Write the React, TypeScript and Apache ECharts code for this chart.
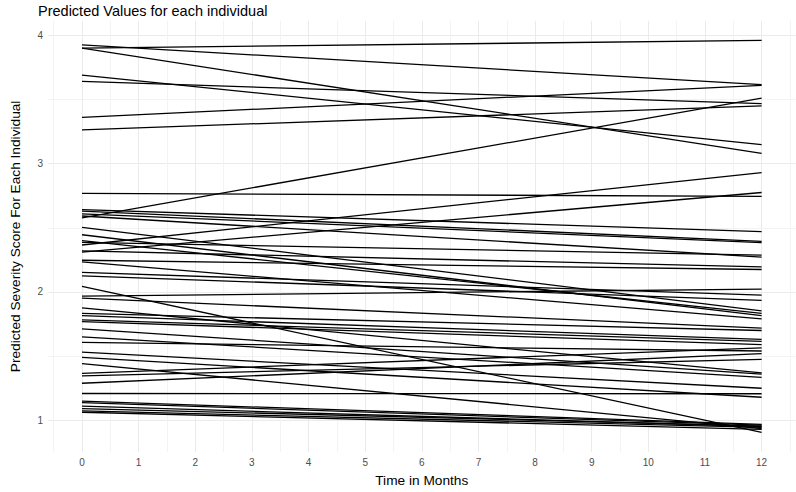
import React, { useEffect, useRef } from "react";
import * as echarts from "echarts";

const TITLE = "Predicted Values for each individual";
const X_TITLE = "Time in Months";
const Y_TITLE = "Predicted Severity Score For Each Individual";

const times = [0, 12];
const xTickLabels = [0, 1, 2, 3, 4, 5, 6, 7, 8, 9, 10, 11, 12];
const yTickLabels = [1, 2, 3, 4];

// predicted value at month 0 for each individual
const startValues = [
  3.9, 3.925, 3.9, 3.69, 3.64, 3.36, 3.263, 2.578, 2.366, 2.31,
  2.768, 2.642, 2.63, 2.609, 2.592, 2.504, 2.446, 2.4, 2.387, 2.32,
  2.247, 2.234, 2.152, 2.126, 2.044, 1.968, 1.952, 1.876, 1.833, 1.815,
  1.782, 1.769, 1.713, 1.651, 1.607, 1.531, 1.49, 1.442, 1.366, 1.347,
  1.289, 1.209, 1.15, 1.138, 1.11, 1.092, 1.074, 1.063,
];
// predicted value at month 12 for each individual
const endValues = [
  3.96, 3.615, 3.08, 3.148, 3.467, 3.61, 3.45, 3.51, 2.93, 2.775,
  2.745, 2.47, 2.395, 2.385, 2.272, 1.853, 1.815, 1.833, 2.287, 2.195,
  2.175, 1.79, 1.976, 1.935, 0.906, 2.022, 1.718, 1.37, 1.7, 1.63,
  1.615, 1.59, 1.36, 1.335, 1.54, 1.25, 1.18, 0.936, 1.565, 1.475,
  1.519, 1.207, 0.969, 0.962, 0.952, 0.955, 0.945, 0.93,
];

export default function App() {
  const ref = useRef<HTMLDivElement>(null);
  useEffect(() => {
    if (!ref.current) return;
    const chart = echarts.init(ref.current, null, { renderer: "svg" });
    const all = startValues.concat(endValues);
    const lo = Math.min(...all);
    const hi = Math.max(...all);
    const pad = (hi - lo) * 0.05;
    const xPad = (times[1] - times[0]) * 0.05;
    const xGrid: number[] = [];
    for (let v = -0.5; v <= 12.5; v += 0.5) xGrid.push(v);
    const yGrid = [1, 1.5, 2, 2.5, 3, 3.5, 4];
    const font = "'Liberation Sans', Arial, sans-serif";

    const series = startValues.map((s, i) => ({
      type: "line" as const,
      data: [
        [times[0], s],
        [times[1], endValues[i]],
      ],
      showSymbol: false,
      symbol: "none",
      lineStyle: { color: "#000000", width: 1.3 },
      silent: true,
    }));

    chart.setOption({
      animation: false,
      backgroundColor: "#ffffff",
      title: {
        text: TITLE,
        left: 33,
        top: -2,
        textStyle: { fontFamily: font, fontSize: 14.5, fontWeight: "normal", color: "#000000" },
      },
      grid: { left: 34.7, right: 0.4, top: 20.8, bottom: 32.8, containLabel: false },
      xAxis: {
        type: "value",
        min: times[0] - xPad,
        max: times[1] + xPad,
        name: X_TITLE,
        nameLocation: "middle",
        nameGap: 21,
        nameTextStyle: { fontFamily: font, fontSize: 13.7, color: "#000000" },
        axisLine: { show: false },
        axisTick: { show: false, customValues: xGrid },
        axisLabel: {
          customValues: xTickLabels,
          fontFamily: font,
          fontSize: 10,
          color: "#4D4D4D",
          margin: 5,
        },
        splitLine: { show: true, lineStyle: { color: ["#F3F3F3", "#EBEBEB"], width: 1 } },
      },
      yAxis: {
        type: "value",
        min: lo - pad,
        max: hi + pad,
        name: Y_TITLE,
        nameLocation: "middle",
        nameGap: 26,
        nameRotate: 90,
        nameTextStyle: { fontFamily: font, fontSize: 13.7, color: "#000000" },
        axisLine: { show: false },
        axisTick: { show: false, customValues: yGrid },
        axisLabel: {
          customValues: yTickLabels,
          fontFamily: font,
          fontSize: 10,
          color: "#4D4D4D",
          margin: 5,
        },
        splitLine: { show: true, lineStyle: { color: ["#EBEBEB", "#F3F3F3"], width: 1 } },
      },
      series,
    });
    return () => chart.dispose();
  }, []);
  return <div ref={ref} style={{ width: 796, height: 492, position: "absolute", left: 0, top: 0 }} />;
}
